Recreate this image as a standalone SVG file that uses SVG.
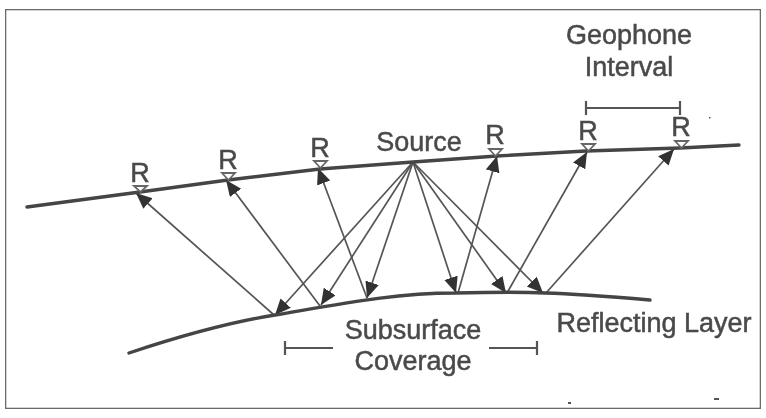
<svg xmlns="http://www.w3.org/2000/svg" width="766" height="418" viewBox="0 0 766 418">
<style>
text{font-family:"Liberation Sans",Arial,sans-serif;font-size:27px;fill:#4a4a4a;stroke:#4a4a4a;stroke-width:0.5;text-anchor:middle}
.g{fill:none;stroke:#444;stroke-width:3.4;stroke-linecap:round;stroke-linejoin:round}
.ray{fill:none;stroke:#555;stroke-width:1.7;marker-end:url(#ah)}
.dim{fill:none;stroke:#555;stroke-width:2.2}
.tri{fill:#fff;stroke:#666;stroke-width:1.8}
</style>
<defs>
<marker id="ah" markerUnits="userSpaceOnUse" markerWidth="20" markerHeight="16" refX="16" refY="7" orient="auto"><path d="M0 0L16 7L0 14Z" fill="#333"/></marker>
<filter id="soft" x="0" y="0" width="100%" height="100%"><feGaussianBlur stdDeviation="0.7"/></filter>
</defs>
<rect width="766" height="418" fill="#fff"/>
<g filter="url(#soft)">
<rect id="frame" x="5" y="9" width="756" height="400" fill="none" stroke="#6a6a6a" stroke-width="2.600"/>
<g id="connectors">
<path class="ray" d="M413 162L275 315"/>
<path class="ray" d="M413 162L321 305"/>
<path class="ray" d="M413 162L367 298"/>
<path class="ray" d="M413 162L456 293"/>
<path class="ray" d="M413 162L506 293"/>
<path class="ray" d="M413 162L543 293"/>
<path class="ray" d="M274 315L136 193"/>
<path class="ray" d="M320 306L226 180"/>
<path class="ray" d="M367 298L318 168"/>
<path class="ray" d="M458 293L497 156"/>
<path class="ray" d="M507 293L587 152"/>
<path class="ray" d="M546 293L674 149"/>
</g>
<g id="surface"><path class="g" d="M27 207L140 192L228 180L320 169L413 162L497 156L586 151L680 148L739 145"/></g>
<g id="reflector"><path class="g" d="M129 353C180 336 225 323 275 315C340 304 395 293 455 293C500 292 525 292 545 293C580 294 615 297 650 300"/></g>
<g id="receiver-1"><text x="140" y="182">R</text><path class="tri" d="M134 186H147L140.500 192Z"/></g>
<g id="receiver-2"><text x="228" y="169">R</text><path class="tri" d="M222 173H235L228.500 180Z"/></g>
<g id="receiver-3"><text x="320" y="157">R</text><path class="tri" d="M314 161H327L320.500 168Z"/></g>
<g id="receiver-4"><text x="495" y="144">R</text><path class="tri" d="M489 149H502L495.500 156Z"/></g>
<g id="receiver-5"><text x="588" y="140">R</text><path class="tri" d="M582 144H595L588.500 151Z"/></g>
<g id="receiver-6"><text x="681" y="136">R</text><path class="tri" d="M675 141H688L681.500 148Z"/></g>
<g id="source"><text x="419" y="151">Source</text></g>
<g id="geophone-interval"><text x="629" y="44">Geophone</text><text x="629" y="76">Interval</text>
<path class="dim" d="M586 101V115M680 101V115M586 108H680"/></g>
<g id="subsurface-coverage"><text x="413" y="339">Subsurface</text><text x="413" y="370">Coverage</text>
<path class="dim" d="M285 341V355M285 348H333M489 348H537M537 341V355"/></g>
<g id="reflecting-layer"><text x="654" y="332">Reflecting Layer</text></g>
<path d="M709 117h1.500v1.500h-1.500zM568 402h3v2h-3zM714 398h5v2h-5z" fill="#555"/>
</g>
</svg>
